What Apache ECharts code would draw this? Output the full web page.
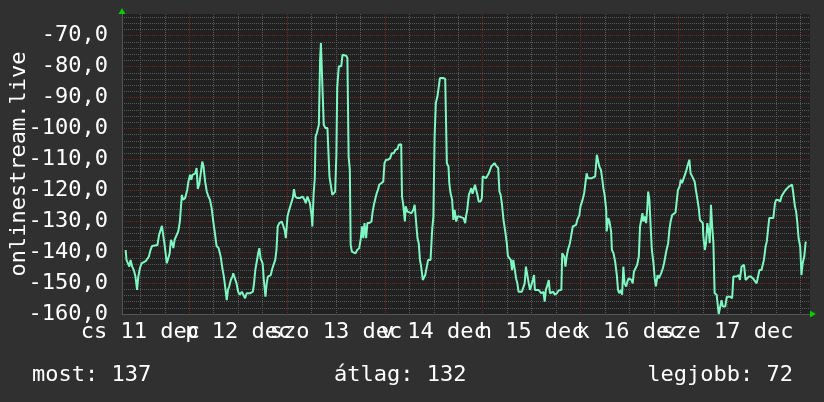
<!DOCTYPE html>
<html>
<head>
<meta charset="utf-8">
<script src="https://cdn.jsdelivr.net/npm/echarts@6/dist/echarts.min.js"></script>
<style>
html,body{margin:0;padding:0;background:#303030;}
#chart{width:824px;height:402px;}
</style>
</head>
<body>
<div id="chart"></div>
<script>
// Time in hours since Dec 11 00:00, value in the chart's unit
const hours = [
8.4,8.6,9.0,9.3,9.6,9.9,10.0,10.4,10.8,11.2,11.5,11.9,12.3,12.7,13.4,13.7,14.1,14.5,14.9,15.3,
16.2,16.6,17.0,17.3,17.6,17.9,18.2,18.5,18.9,19.2,19.5,19.8,20.1,20.4,20.8,21.3,21.7,22.0,22.2,22.5,
23.0,23.5,23.8,24.2,24.5,24.8,25.2,25.5,25.8,26.1,26.5,26.9,27.2,27.5,27.9,28.3,28.7,29.1,29.5,29.9,
30.3,30.7,31.2,31.7,32.2,32.5,32.8,33.2,33.5,33.8,34.2,34.6,34.8,35.2,35.6,36.0,36.4,36.9,37.3,37.7,
38.1,38.5,38.9,39.6,39.9,40.2,40.5,40.9,41.2,41.5,42.0,42.3,42.7,43.0,43.3,43.6,44.0,44.4,44.8,45.1,
45.4,45.7,46.1,46.7,47.1,47.4,47.7,48.1,48.4,48.7,49.0,49.4,49.7,50.0,50.5,51.2,51.8,52.3,52.6,53.0,
53.3,53.6,54.0,54.2,54.5,54.8,55.0,55.3,55.6,55.8,56.1,56.3,56.7,57.0,57.4,57.9,58.2,58.4,58.8,59.1,
59.4,59.8,60.1,60.3,60.7,61.0,61.3,61.6,62.0,62.5,62.8,63.1,63.4,63.6,63.9,64.3,64.8,65.2,65.7,66.1,
66.4,66.7,67.0,67.4,67.7,68.2,68.7,69.0,69.3,69.7,70.0,70.3,70.6,71.1,71.6,71.9,72.3,72.8,73.3,73.7,
74.2,74.6,75.1,75.4,75.7,76.0,76.2,76.5,76.9,77.1,77.5,77.9,78.5,79.0,79.3,79.6,80.0,80.3,80.6,80.9,
81.3,81.6,81.9,82.3,82.6,82.9,83.2,83.6,83.9,84.2,84.5,84.9,85.2,85.5,85.9,86.3,86.8,87.2,87.6,87.8,
88.1,88.5,88.8,89.1,89.5,89.8,90.3,90.6,91.3,91.7,91.9,92.2,92.6,92.9,93.2,93.5,93.9,94.1,94.4,94.7,
95.0,95.5,95.8,96.0,96.3,96.8,97.1,97.5,97.8,98.1,98.4,98.9,99.3,99.8,100.1,100.4,100.7,101.1,101.6,101.9,
102.2,102.5,102.9,103.2,103.5,103.8,104.2,104.5,104.8,105.2,105.6,106.0,106.3,106.6,107.0,107.3,107.6,107.9,108.3,108.6,
108.8,109.2,109.7,110.1,110.4,110.9,111.2,111.5,111.9,112.2,112.5,112.9,113.3,113.7,114.2,114.6,115.0,115.3,115.5,116.0,
116.3,116.6,116.9,117.4,117.8,118.1,118.4,118.9,119.2,119.7,120.0,120.5,120.9,121.2,121.5,121.8,122.3,122.8,123.1,123.6,
124.0,124.3,124.6,125.0,125.3,125.6,125.9,126.3,126.4,126.8,127.1,127.2,127.5,127.7,128.1,128.5,128.9,129.2,129.5,129.9,
130.2,130.5,130.8,131.2,131.5,131.8,132.1,132.5,132.8,133.1,133.5,133.9,134.3,134.6,134.9,135.2,135.4,135.7,136.1,136.4,
136.6,136.9,137.2,137.5,137.9,138.2,138.5,138.9,139.2,139.5,139.8,140.2,140.5,140.8,141.1,141.5,141.8,142.1,142.5,142.8,
143.3,143.6,143.9,144.3,144.6,144.9,145.2,145.6,145.9,146.2,146.5,146.7,147.0,147.4,147.7,148.0,148.3,148.7,149.0,149.3,
149.7,150.0,150.1,150.5,150.8,151.1,151.5,151.7,152.0,152.3,152.6,152.9,153.4,153.7,153.9,154.2,154.6,154.9,155.2,155.5,
155.9,156.2,156.7,157.2,157.5,157.8,158.3,158.8,159.1,159.5,159.8,160.1,160.5,160.8,161.3,161.8,162.3,162.7,163.2,163.6,
163.9,164.4,164.7,165.0,165.4,165.7,166.0,166.3,166.7,167.3,167.7,168.0,168.5,169.0,169.3,169.8,170.3,170.6,171.1,171.4,
171.9,172.2,172.6,172.9,173.2,173.5,173.9,174.2,174.5,174.9,175.2,175.3
];
const values = [
-139.3,-142.5,-143.1,-144.7,-142.5,-143.1,-144.7,-145.8,-147.9,-152.2,-147.9,-145.2,-143.6,-143.1,-142.8,-142.5,-141.4,-139.3,-138.0,-137.7,
-137.7,-134.4,-133.9,-131.5,-134.4,-137.1,-137.1,-143.6,-143.1,-140.4,-136.0,-137.1,-138.7,-136.0,-136.6,-133.3,-130.1,-124.7,-121.5,-123.1,
-122.5,-119.9,-117.2,-115.0,-116.6,-115.0,-114.5,-114.5,-112.8,-119.6,-117.7,-118.2,-110.7,-112.3,-117.2,-120.4,-122.0,-123.1,-125.8,-130.1,
-133.9,-138.0,-138.7,-141.4,-145.8,-147.9,-151.1,-155.5,-152.2,-151.1,-149.0,-147.9,-146.8,-148.5,-150.1,-152.8,-153.8,-152.8,-152.2,-154.9,
-153.3,-153.8,-153.3,-152.8,-150.1,-145.8,-143.6,-140.4,-138.7,-142.0,-143.6,-149.0,-154.4,-150.1,-147.9,-148.5,-147.4,-145.2,-144.9,-142.5,
-139.3,-131.7,-130.6,-130.1,-130.6,-132.8,-135.5,-128.5,-126.9,-126.3,-124.2,-122.5,-119.6,-122.0,-122.5,-122.5,-122.0,-123.1,-124.2,-122.0,
-123.1,-124.2,-128.0,-131.7,-121.5,-116.1,-102.6,-101.5,-99.9,-98.8,-77.8,-72.4,-72.4,-98.8,-99.9,-99.9,-100.4,-115.5,-115.5,-121.5,
-121.5,-120.4,-108.5,-86.9,-79.9,-79.7,-79.9,-76.2,-75.8,-76.5,-77.2,-109.1,-113.4,-137.7,-139.8,-140.4,-140.4,-139.3,-138.7,-135.5,
-131.7,-135.5,-130.6,-135.5,-130.6,-130.6,-130.1,-126.9,-124.7,-124.2,-120.9,-119.9,-118.2,-117.7,-117.2,-111.2,-110.1,-110.1,-109.6,-108.0,
-108.0,-106.9,-106.7,-105.3,-105.1,-105.1,-122.0,-124.7,-130.1,-125.2,-126.9,-127.4,-127.4,-126.3,-124.7,-124.2,-135.5,-137.1,-142.5,-144.7,
-149.0,-148.5,-147.4,-146.8,-142.5,-143.1,-142.5,-132.8,-128.5,-102.6,-91.8,-89.6,-89.6,-83.7,-83.2,-83.7,-84.0,-111.2,-112.3,-117.7,
-120.9,-123.1,-129.6,-126.3,-130.1,-128.5,-128.5,-129.0,-129.0,-130.6,-128.5,-126.3,-121.5,-120.4,-119.3,-121.1,-119.3,-118.2,-117.7,-121.5,
-123.6,-123.6,-122.5,-115.5,-115.0,-116.1,-116.1,-114.5,-113.4,-112.3,-111.8,-111.2,-112.1,-112.8,-120.4,-121.5,-124.2,-129.6,-133.9,-137.1,
-141.4,-142.0,-142.5,-145.8,-142.5,-142.5,-148.5,-150.1,-152.8,-153.3,-152.8,-152.2,-150.1,-144.7,-144.1,-150.1,-152.2,-152.2,-149.0,-147.4,
-152.2,-152.8,-152.2,-152.2,-153.3,-152.8,-156.0,-152.2,-150.6,-149.0,-153.3,-152.8,-152.8,-153.8,-153.3,-152.4,-152.2,-152.2,-140.4,-141.4,
-144.7,-141.4,-139.3,-137.1,-136.6,-131.7,-131.5,-131.2,-129.6,-128.0,-125.2,-123.1,-120.9,-117.7,-114.5,-116.1,-116.1,-116.1,-115.5,-115.5,
-108.5,-108.2,-112.3,-113.4,-116.1,-119.3,-121.5,-126.3,-133.3,-129.0,-130.1,-129.6,-133.3,-139.3,-140.4,-143.1,-147.4,-152.2,-153.3,-152.2,
-153.8,-144.7,-150.1,-151.1,-149.5,-148.5,-148.5,-149.0,-150.1,-146.3,-145.2,-144.1,-141.4,-131.7,-129.6,-127.4,-130.1,-128.5,-130.6,-125.2,
-120.4,-123.1,-131.7,-139.3,-143.6,-148.5,-151.1,-147.4,-148.5,-148.5,-146.8,-145.2,-143.6,-141.4,-139.3,-137.1,-132.8,-130.1,-128.0,-127.4,
-127.2,-126.9,-119.9,-118.8,-116.6,-117.7,-118.2,-115.0,-113.9,-112.3,-111.8,-110.1,-114.5,-115.5,-115.5,-117.2,-119.9,-123.1,-125.8,-129.6,
-130.1,-130.6,-134.4,-139.3,-137.1,-130.6,-133.9,-137.1,-124.7,-131.7,-137.1,-153.3,-153.8,-154.4,-160.0,-160.0,-155.5,-157.6,-157.1,-157.6,
-154.4,-153.8,-154.4,-154.9,-147.9,-148.5,-147.9,-147.4,-149.0,-144.7,-144.1,-144.1,-149.0,-148.5,-147.9,-147.9,-148.5,-149.0,-150.1,-150.6,
-145.8,-145.8,-145.8,-142.5,-138.2,-136.6,-132.8,-129.0,-129.0,-129.0,-124.2,-123.1,-123.1,-123.6,-122.0,-120.9,-119.9,-119.6,-118.8,-118.2,
-118.2,-120.9,-125.2,-126.9,-130.6,-135.5,-138.2,-147.4,-143.6,-141.4,-137.1,-136.6
];

const xRange = [7.5, 176.3];
const yRange = [-160, -63];
const yTicks = [-160, -150, -140, -130, -120, -110, -100, -90, -80, -70];
const labelHours = [12, 36, 60, 84, 108, 132, 156];
const dayLabels = ['cs 11 dec', 'p 12 dec', 'szo 13 dec', 'v 14 dec', 'h 15 dec', 'k 16 dec', 'sze 17 dec'];
const majorGridHours = [24, 48, 72, 96, 120, 144];
const minorGridHours = [12, 18, 30, 36, 42, 54, 60, 66, 78, 84, 90, 102, 108, 114, 126, 132, 138, 150, 156, 162, 168, 174];
const statLabels = ['most', 'átlag', 'legjobb'];
const statValues = [137, 132, 72];
const axisTitle = 'onlinestream.live';

const yMinor = [];
for (let v = yRange[0] + 2; v < yRange[1]; v += 2) { if (v % 10 !== 0) yMinor.push(v); }

const FONT = 'DejaVu Sans Mono';
const FS = 22;
const TXT = '#ffffff';
const GRAY = '#585858';
const RED = '#6e2828';
const DASH = [1, 1];

const seriesData = hours.map((h, i) => [h, values[i]]);
const dayLabelMap = {};
labelHours.forEach((h, i) => { dayLabelMap[h] = dayLabels[i]; });
// split labels over two axes so neighbouring (overlapping) labels are never auto-hidden
const labelHoursA = labelHours.filter((h, i) => i % 2 === 0);
const labelHoursB = labelHours.filter((h, i) => i % 2 === 1);

function hiddenAxisBase() {
  return {
    axisLabel: { show: false },
    axisTick: { show: false },
    axisLine: { show: false }
  };
}
function labelAxis(vals, showLine) {
  return {
    type: 'value', min: xRange[0], max: xRange[1], position: 'bottom',
    axisLine: { show: showLine, onZero: false, lineStyle: { color: '#555555', width: 1 } },
    axisTick: { show: false, customValues: vals },
    splitLine: { show: false },
    axisLabel: {
      show: true, customValues: vals, hideOverlap: false,
      showMinLabel: true, showMaxLabel: true,
      color: TXT, fontFamily: FONT, fontSize: FS, margin: 7,
      formatter: v => dayLabelMap[v] || ''
    }
  };
}

const chart = echarts.init(document.getElementById('chart'), null, { renderer: 'canvas' });
chart.setOption({
  animation: false,
  backgroundColor: '#303030',
  grid: {
    left: 122, right: 14, top: 14, bottom: 88,
    show: true, backgroundColor: '#212121', borderWidth: 0,
    containLabel: false, outerBoundsMode: 'none'
  },
  xAxis: [
    labelAxis(labelHoursA, true),
    Object.assign(hiddenAxisBase(), {
      type: 'value', min: xRange[0], max: xRange[1], position: 'bottom',
      axisTick: { show: false, customValues: minorGridHours },
      splitLine: { show: true, lineStyle: { color: GRAY, width: 1, type: DASH } }
    }),
    Object.assign(hiddenAxisBase(), {
      type: 'value', min: xRange[0], max: xRange[1], position: 'bottom',
      axisTick: { show: false, customValues: majorGridHours },
      splitLine: { show: true, lineStyle: { color: RED, width: 1, type: DASH } }
    }),
    {
      type: 'value', min: xRange[0], max: xRange[1], position: 'bottom',
      axisLabel: { show: false }, axisTick: { show: false }, splitLine: { show: false },
      axisLine: { show: true, onZero: false, symbol: ['none', 'triangle'], symbolSize: [7, 6], symbolOffset: [0, 3],
        lineStyle: { color: '#00cc00', width: 0 } }
    },
    labelAxis(labelHoursB, false)
  ],
  yAxis: [
    {
      type: 'value', min: yRange[0], max: yRange[1], position: 'left',
      name: axisTitle, nameLocation: 'middle', nameGap: 92, nameMoveOverlap: false,
      nameTextStyle: { color: TXT, fontFamily: FONT, fontSize: FS },
      axisLine: { show: true, onZero: false, lineStyle: { color: '#555555', width: 1 } },
      axisTick: { show: false, customValues: yTicks },
      splitLine: { show: true, lineStyle: { color: RED, width: 1, type: DASH } },
      axisLabel: {
        show: true, customValues: yTicks, hideOverlap: false,
        showMinLabel: true, showMaxLabel: true,
        color: TXT, fontFamily: FONT, fontSize: FS, margin: 14,
        formatter: v => v.toFixed(1).replace('.', ',')
      }
    },
    Object.assign(hiddenAxisBase(), {
      type: 'value', min: yRange[0], max: yRange[1], position: 'left',
      axisTick: { show: false, customValues: yMinor },
      splitLine: { show: true, lineStyle: { color: GRAY, width: 1, type: DASH } }
    }),
    {
      type: 'value', min: yRange[0], max: yRange[1], position: 'left',
      axisLabel: { show: false }, axisTick: { show: false }, splitLine: { show: false },
      axisLine: { show: true, onZero: false, symbol: ['none', 'triangle'], symbolSize: [7, 6], symbolOffset: [0, 3],
        lineStyle: { color: '#00cc00', width: 0 } }
    }
  ],
  series: [{
    type: 'line',
    xAxisIndex: 0, yAxisIndex: 0,
    data: seriesData,
    showSymbol: false, symbol: 'none',
    sampling: null,
    lineStyle: { color: '#7ff7c2', width: 2 },
    z: 5,
    silent: true
  }],
  graphic: [
    { type: 'text', left: 32, top: 364, style: { text: statLabels[0] + ': ' + statValues[0], fill: TXT, font: FS + 'px "' + FONT + '"' } },
    { type: 'text', left: 334, top: 364, style: { text: statLabels[1] + ': ' + statValues[1], fill: TXT, font: FS + 'px "' + FONT + '"' } },
    { type: 'text', right: 31, top: 364, style: { text: statLabels[2] + ': ' + statValues[2], fill: TXT, font: FS + 'px "' + FONT + '"' } }
  ]
});
</script>
</body>
</html>
